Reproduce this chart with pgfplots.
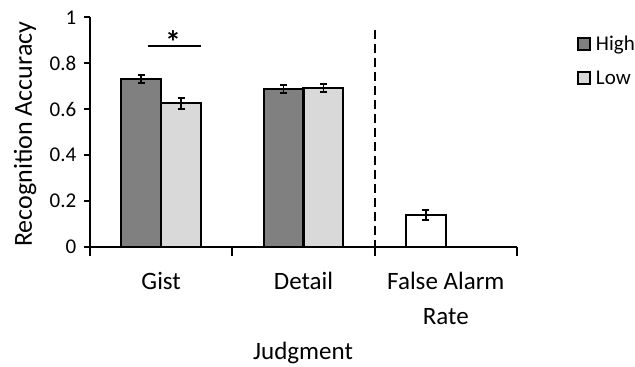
\documentclass[border=0pt]{standalone}
\usepackage{fontspec}
\setmainfont{Carlito}
\usepackage{pgfplots}
\usepackage{pgfplotstable}
\pgfplotsset{compat=1.18}
\definecolor{highc}{HTML}{808080}
\definecolor{lowc}{HTML}{D9D9D9}
\pgfplotstableread{
x y e
0.36 0.732 0.018
1.36 0.687 0.018
}\highdata
\pgfplotstableread{
x y e
0.64 0.625 0.024
1.64 0.691 0.017
}\lowdata
\pgfplotstableread{
x y e
2.36 0.138 0.023
}\fadata
\begin{document}
\begin{tikzpicture}
\begin{axis}[
  at={(0,0)}, anchor=south west,
  scale only axis, width=427bp, height=229.4bp,
  xmin=0, xmax=3, ymin=0, ymax=1,
  axis lines=left,
  axis line style={-, line width=2.2bp, black},
  clip=false,
  tick align=outside,
  major tick length=5.5bp,
  tick style={line width=2.2bp, black},
  xtick={0,1,2,3},
  xticklabels={,,,},
  x tick style={/pgfplots/major tick length=9bp},
  extra x ticks={0.5,1.5,2.5},
  extra x tick labels={Gist,Detail,{False Alarm\\Rate}},
  extra x tick style={major tick length=0pt,
    tick style={draw=none},
    xticklabel style={font=\fontsize{25bp}{35bp}\selectfont, align=center, anchor=north, inner sep=0pt, yshift=-25bp}},
  ytick={0,0.2,0.4,0.6,0.8,1},
  /pgf/number format/assume math mode=true,
  yticklabel style={font=\fontsize{21bp}{24bp}\selectfont, /pgf/number format/fixed, /pgf/number format/precision=1, anchor=east, inner sep=0pt, xshift=-8bp},
  ylabel={Recognition Accuracy},
  ylabel style={font=\fontsize{26bp}{30bp}\selectfont, at={(rel axis cs:0,0.49)}, anchor=center, rotate=0, yshift=65bp},
  xlabel={Judgment},
  xlabel style={font=\fontsize{25bp}{30bp}\selectfont, at={(rel axis cs:0.499,0)}, anchor=center, yshift=-106bp},
  legend style={at={(axis cs:3.42,0.93)}, anchor=north west, draw=none, fill=none,
    font=\fontsize{21bp}{24bp}\selectfont, row sep=15bp, inner sep=0pt},
  legend cell align=left,
]
\addplot[ybar, bar width=0.28, bar shift=0pt, fill=highc, draw=black, line width=2.2bp,
  legend image code/.code={\draw[fill=highc, draw=black, line width=2bp] (0bp,-6bp) rectangle (12bp,6bp);},
  error bars/.cd, y dir=both, y explicit,
  error bar style={line width=1.8bp, black},
  error mark options={rotate=90, mark size=3.5bp, line width=1.8bp, black}]
  table[x=x, y=y, y error=e] {\highdata};
\addlegendentry{\hspace{3bp}High}
\addplot[ybar, bar width=0.28, bar shift=0pt, fill=lowc, draw=black, line width=2.2bp,
  legend image code/.code={\draw[fill=lowc, draw=black, line width=2bp] (0bp,-6bp) rectangle (12bp,6bp);},
  error bars/.cd, y dir=both, y explicit,
  error bar style={line width=1.8bp, black},
  error mark options={rotate=90, mark size=3.5bp, line width=1.8bp, black}]
  table[x=x, y=y, y error=e] {\lowdata};
\addlegendentry{\hspace{3bp}Low}
\addplot[forget plot, ybar, bar width=0.28, bar shift=0pt, fill=white, draw=black, line width=2.2bp,
  error bars/.cd, y dir=both, y explicit,
  error bar style={line width=1.8bp, black},
  error mark options={rotate=90, mark size=3.5bp, line width=1.8bp, black}]
  table[x=x, y=y, y error=e] {\fadata};
\draw[black, line width=2.3bp, dash pattern=on 9bp off 5bp] (axis cs:2,0.945) -- (axis cs:2,0);
\draw[black, line width=2.2bp] (axis cs:0.405,0.876) -- (axis cs:0.782,0.876);
\node[font=\fontsize{32bp}{36bp}\selectfont\bfseries] at (axis cs:0.583,0.89) {*};
\end{axis}
\pgfresetboundingbox
\path[use as bounding box] (-90bp,-120.3bp) rectangle (545bp,246.7bp);
\end{tikzpicture}
\end{document}
